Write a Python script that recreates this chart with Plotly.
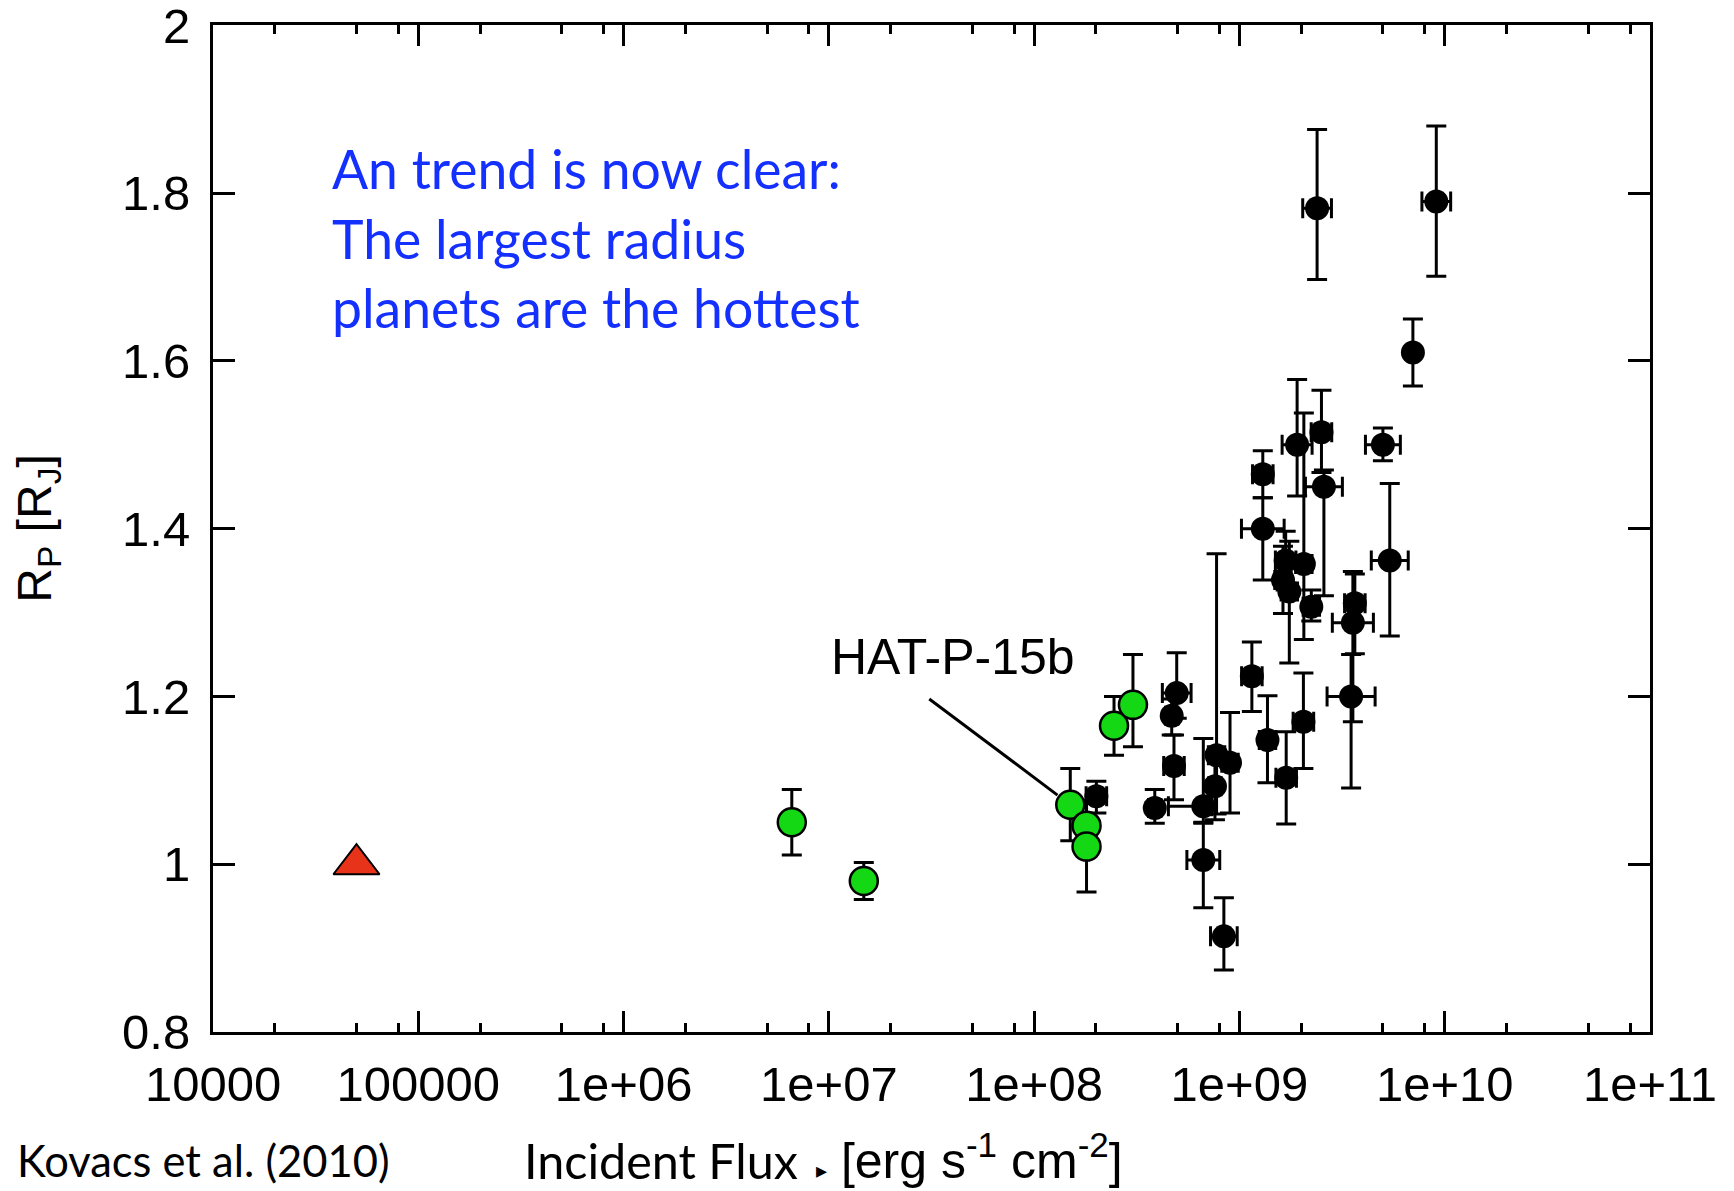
import numpy as np
import plotly.graph_objects as go

# ---- transiting planets from the literature (black) ----
hot_flux = [2.39e9, 9.1e9, 7.0e9, 5.0e9, 5.4e9, 1.30e9, 1.30e9, 1.91e9, 2.51e9, 2.58e9,
            3.5e9, 3.57e9, 3.65e9, 1.68e9, 2.06e9, 1.63e9, 1.75e9, 2.24e9, 1.15e9, 1.37e9,
            2.05e9, 1.69e9, 2.01e8, 3.87e8, 4.68e8, 4.95e8, 4.80e8, 6.67e8, 6.67e8, 8.4e8,
            7.74e8, 9.0e8, 7.6e8]
hot_radius = [1.782, 1.790, 1.610, 1.500, 1.362, 1.465, 1.400, 1.500, 1.515, 1.450,
              1.200, 1.288, 1.311, 1.362, 1.358, 1.339, 1.325, 1.307, 1.224, 1.148,
              1.170, 1.103, 1.081, 1.067, 1.177, 1.204, 1.117, 1.069, 1.005, 0.914,
              1.130, 1.121, 1.093]
hot_rad_err_up = [0.094, 0.090, 0.040, 0.020, 0.092, 0.028, 0.037, 0.078, 0.050, 0.020,
                  0.050, 0.061, 0.035, 0.035, 0.180, 0.040, 0.060, 0.020, 0.041, 0.053,
                  0.058, 0.055, 0.018, 0.022, 0.020, 0.048, 0.037, 0.081, 0.045, 0.046,
                  0.240, 0.060, 0.040]
hot_rad_err_dn = [0.085, 0.089, 0.040, 0.019, 0.090, 0.028, 0.061, 0.061, 0.048, 0.130,
                  0.109, 0.118, 0.060, 0.035, 0.090, 0.040, 0.085, 0.017, 0.042, 0.051,
                  0.056, 0.055, 0.020, 0.018, 0.023, 0.030, 0.040, 0.020, 0.057, 0.040,
                  0.070, 0.060, 0.040]
# flux uncertainties in dex
hot_flux_err_up = [0.07, 0.07, 0.0, 0.085, 0.09, 0.05, 0.104, 0.073, 0.05, 0.09,
                   0.117, 0.10, 0.05, 0.05, 0.04, 0.04, 0.04, 0.04, 0.05, 0.04,
                   0.05, 0.05, 0.05, 0.03, 0.03, 0.07, 0.05, 0.04, 0.08, 0.065,
                   0.04, 0.04, 0.03]
hot_flux_err_dn = [0.07, 0.07, 0.0, 0.085, 0.09, 0.05, 0.104, 0.073, 0.05, 0.09,
                   0.117, 0.10, 0.05, 0.05, 0.04, 0.04, 0.04, 0.04, 0.05, 0.04,
                   0.05, 0.05, 0.05, 0.03, 0.03, 0.07, 0.05, 0.17, 0.08, 0.065,
                   0.04, 0.04, 0.03]

# ---- long-period planets (green) ----
warm_flux = [6.6e6, 1.48e7, 1.5e8, 1.8e8, 1.8e8, 2.45e8, 3.03e8]
warm_radius = [1.050, 0.980, 1.071, 1.046, 1.021, 1.165, 1.190]
warm_err_up = [0.039, 0.022, 0.043, 0.030, 0.054, 0.035, 0.060]
warm_err_dn = [0.039, 0.022, 0.043, 0.030, 0.054, 0.035, 0.050]

# ---- Jupiter ----
jup_flux = [5.0e4]
jup_radius = [1.0]

label_planet = "HAT-P-15b"
label_index = 2

xtick_vals = [1e4, 1e5, 1e6, 1e7, 1e8, 1e9, 1e10, 1e11]
xtick_text = ["10000", "100000", "1e+06", "1e+07", "1e+08", "1e+09", "1e+10", "1e+11"]
xminor_vals = [m * 10.0 ** e for e in range(4, 11) for m in (2, 5, 8)]
ytick_vals = [0.8, 1.0, 1.2, 1.4, 1.6, 1.8, 2.0]
ytick_text = ["0.8", "1", "1.2", "1.4", "1.6", "1.8", "2"]

hf = np.array(hot_flux)
flux_plus = hf * (10 ** np.array(hot_flux_err_up) - 1)
flux_minus = hf * (1 - 10 ** (-np.array(hot_flux_err_dn)))

fig = go.Figure()

fig.add_trace(go.Scatter(
    x=hot_flux, y=hot_radius, mode="markers",
    marker=dict(color="black", size=24, line=dict(width=0)),
    error_y=dict(type="data", array=hot_rad_err_up, arrayminus=hot_rad_err_dn,
                 symmetric=False, color="black", thickness=3, width=10),
    error_x=dict(type="data", array=flux_plus.tolist(), arrayminus=flux_minus.tolist(),
                 symmetric=False, color="black", thickness=3, width=10),
    showlegend=False, hoverinfo="skip",
))

fig.add_trace(go.Scatter(
    x=warm_flux, y=warm_radius, mode="markers",
    marker=dict(color="#14d814", size=28, line=dict(color="black", width=2.5)),
    error_y=dict(type="data", array=warm_err_up, arrayminus=warm_err_dn,
                 symmetric=False, color="black", thickness=3, width=10),
    showlegend=False, hoverinfo="skip",
))

fig.add_trace(go.Scatter(
    x=jup_flux, y=jup_radius, mode="markers",
    marker=dict(symbol="triangle-up", color="#e8331b", size=40,
                line=dict(color="black", width=2)),
    showlegend=False, hoverinfo="skip",
))

PW, PH = 1734, 1191
ML, MR, MT, MB = 213, 84, 25, 159
pw, ph = PW - ML - MR, PH - MT - MB


def px(xp):
    return (xp - ML) / pw


def py(yp):
    return (PH - MB - yp) / ph


calibri = "Lato, 'Open Sans', sans-serif"
helv = "'Liberation Sans', Arial, sans-serif"

annotations = [
    dict(x=np.log10(warm_flux[label_index]), y=warm_radius[label_index], xref="x", yref="y",
         text=" ", showarrow=True, arrowhead=0, arrowwidth=3, arrowcolor="black",
         ax=-144, ay=-108, standoff=16),
    dict(x=px(953), y=py(657), xref="paper", yref="paper", text=label_planet,
         showarrow=False, font=dict(family=helv, size=50, color="black"),
         xanchor="center", yanchor="middle"),
    dict(x=px(330), y=py(134), xref="paper", yref="paper",
         text="An trend is now clear:<br>The largest radius<br>planets are the hottest",
         showarrow=False, align="left", xanchor="left", yanchor="top",
         font=dict(family=calibri, size=53.5, color="#1430ff")),
    dict(x=px(15), y=py(1160), xref="paper", yref="paper", text="Kovacs et al. (2010)",
         showarrow=False, xanchor="left", yanchor="middle",
         font=dict(family=calibri, size=43.5, color="black")),
    dict(x=px(522), y=py(1160), xref="paper", yref="paper", text="Incident Flux",
         showarrow=False, xanchor="left", yanchor="middle",
         font=dict(family=calibri, size=48.5, color="black")),
    dict(x=px(814), y=py(1157), xref="paper", yref="paper",
         text="<span style='font-size:22px'>\u25b8</span> [erg s<sup>-1</sup> cm<sup>-2</sup>]",
         showarrow=False, xanchor="left", yanchor="middle",
         font=dict(family=helv, size=50, color="black")),
]

fig.update_layout(
    width=PW, height=PH,
    margin=dict(l=ML, r=MR, t=MT, b=MB, pad=0, autoexpand=False),
    paper_bgcolor="white", plot_bgcolor="white",
    annotations=annotations,
    xaxis=dict(
        type="log", range=[4, 11.0001], automargin=False,
        tickmode="array", tickvals=xtick_vals, ticktext=xtick_text,
        ticks="inside", ticklen=21, tickwidth=3, tickcolor="black",
        minor=dict(tickmode="array", tickvals=xminor_vals, ticks="inside",
                   ticklen=9, tickwidth=3, tickcolor="black", showgrid=False),
        showline=True, linewidth=3, linecolor="black", mirror="ticks",
        showgrid=False, zeroline=False,
        tickfont=dict(family=helv, size=49, color="black"),
        ticklabelstandoff=7, ticklabeloverflow="allow",
    ),
    yaxis=dict(
        range=[0.8, 2.0005], tickmode="array", automargin=False,
        tickvals=ytick_vals, ticktext=ytick_text,
        ticks="inside", ticklen=22, tickwidth=3, tickcolor="black",
        showline=True, linewidth=3, linecolor="black", mirror="ticks",
        showgrid=False, zeroline=False,
        tickfont=dict(family=helv, size=49, color="black"),
        ticklabelstandoff=10, ticklabeloverflow="allow",
        title=dict(text="R<sub>P</sub> [R<sub>J</sub>]", standoff=56,
                   font=dict(family=helv, size=48, color="black")),
    ),
)

fig.write_html("out.html")
